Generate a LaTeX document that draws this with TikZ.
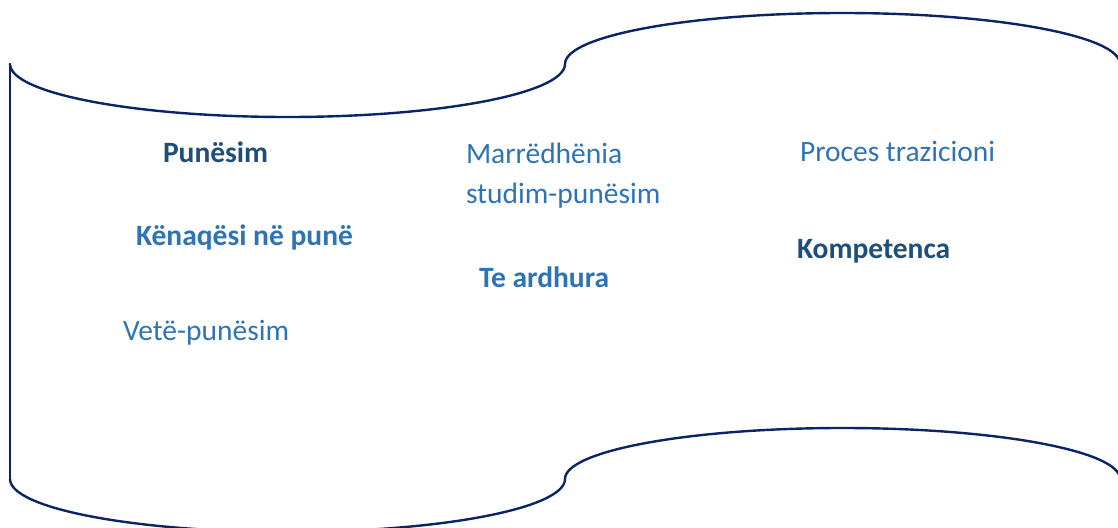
\documentclass[tikz,border=0pt]{standalone}
\usepackage{fontspec}
\setmainfont{Carlito}
\definecolor{edge}{HTML}{0B2466}
\definecolor{darkt}{HTML}{1F4E79}
\definecolor{lightt}{HTML}{2E74B5}
\tikzset{
  scroll/.style={draw=edge, line width=2.4pt, line cap=round, line join=round},
  lbl/.style={anchor=base west, inner sep=0pt, outer sep=0pt, font=\fontsize{29.5}{35}\selectfont},
  dk/.style={lbl, text=darkt, font=\fontsize{29.5}{35}\selectfont\bfseries},
  lt/.style={lbl, text=lightt},
  ltb/.style={lbl, text=lightt, font=\fontsize{29.5}{35}\selectfont\bfseries},
}
\begin{document}
\begin{tikzpicture}[x=1pt,y=-1pt]
\useasboundingbox (0,0) rectangle (1118,527);
\begin{scope}
\clip (0,0) rectangle (1118,527);
% top wavy edge
\coordinate (tl) at (10,64);
\draw[scroll] (tl) arc[start angle=180, end angle=270, x radius=277.5, y radius=-53]
  arc[start angle=270, end angle=360, x radius=277.5, y radius=-53]
  arc[start angle=180, end angle=90, x radius=277.5, y radius=-51]
  arc[start angle=90, end angle=0, x radius=277.5, y radius=-51];
% bottom wavy edge
\coordinate (bl) at (10,479);
\draw[scroll] (bl) arc[start angle=180, end angle=270, x radius=277.5, y radius=-53]
  arc[start angle=270, end angle=360, x radius=277.5, y radius=-53]
  arc[start angle=180, end angle=90, x radius=277.5, y radius=-51]
  arc[start angle=90, end angle=0, x radius=277.5, y radius=-51];
% left edge
\draw[scroll] (tl) -- (bl);
\end{scope}
% labels
\node[dk]  (pun) at (163,162) {Punësim};
\node[ltb] (ken) at (136,245) {Kënaqësi në punë};
\node[lt]  (vet) at (123,340) {Vetë-punësim};
\node[lt]  (mar1) at (466,163) {Marrëdhënia};
\node[lt]  (mar2) at (466,203) {studim-punësim};
\node[ltb] (tea) at (479,287) {Te ardhura};
\node[lt]  (pro) at (800,161) {Proces trazicioni};
\node[dk]  (kom) at (797,258) {Kompetenca};
\end{tikzpicture}
\end{document}
